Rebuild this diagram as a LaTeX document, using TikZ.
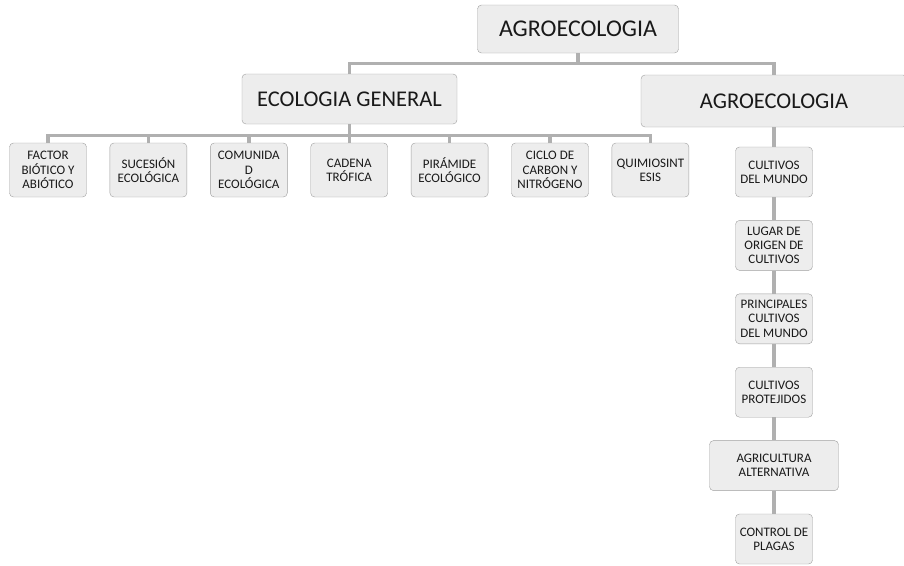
\documentclass[tikz,border=0pt]{standalone}
\usepackage{fontspec}
\setmainfont{Carlito}
\usepackage{xcolor}
\usepackage{tikz}
\usetikzlibrary{positioning}

\begin{document}
\begin{tikzpicture}[
    x=1pt, y=1pt,
    node distance=23pt,
    topbox/.style={rectangle, rounded corners=4pt, minimum width=201pt, minimum height=48pt, text centered, draw=gray!75, fill=gray!14, text=black!90, font=\fontsize{24}{28}\selectfont},
    midbox/.style={topbox, font=\fontsize{22.5}{27}\selectfont},
    leafbox/.style={rectangle, rounded corners=4pt, minimum width=77pt, minimum height=54pt, align=center, inner sep=1pt, draw=gray!75, fill=gray!14, text=black!90, font=\fontsize{13}{14.2}\selectfont},
    colbox/.style={leafbox, minimum height=50pt},
    link/.style={draw=gray!62, line width=3.4pt}
]
\useasboundingbox (0,0) rectangle (904,-565);

\node (root) [topbox] at (578,-29) {AGROECOLOGIA};
\node (ecogen) [midbox, minimum width=215pt, minimum height=50pt] at (349.5,-99) {ECOLOGIA GENERAL};
\node (agro) [midbox, minimum width=266pt, minimum height=52pt] at (774,-101) {AGROECOLOGIA};

% ecologia general
\node (factor) [leafbox] at (48,-170) {FACTOR\\BIÓTICO Y\\ABIÓTICO};
\node (sucesion) [leafbox, right=of factor] {SUCESIÓN\\ECOLÓGICA};
\node (comunidad) [leafbox, right=of sucesion] {COMUNIDA\\D\\ECOLÓGICA};
\node (cadena) [leafbox, right=of comunidad] {CADENA\\TRÓFICA};
\node (piramide) [leafbox, right=of cadena] {PIRÁMIDE\\ECOLÓGICO};
\node (ciclo) [leafbox, right=of piramide] {CICLO DE\\CARBON Y\\NITRÓGENO};
\node (quimio) [leafbox, right=of ciclo] {QUIMIOSINT\\ESIS};

% agroecologia
\node (cultivos) [colbox] at (774,-172) {CULTIVOS\\DEL MUNDO};
\node (origen) [colbox, below=of cultivos] {LUGAR DE\\ORIGEN DE\\CULTIVOS};
\node (principales) [colbox, below=of origen] {PRINCIPALES\\CULTIVOS\\DEL MUNDO};
\node (protejidos) [colbox, below=of principales] {CULTIVOS\\PROTEJIDOS};
\node (alternativa) [colbox, below=of protejidos, minimum width=129pt] {AGRICULTURA\\ALTERNATIVA};
\node (plagas) [colbox, below=of alternativa] {CONTROL DE\\PLAGAS};

\draw [link] (root.south) -- ++(0,-10) -| (ecogen.north);
\draw [link] (root.south) -- ++(0,-10) -| (agro.north);

\draw [link] (ecogen.south) -- ++(0,-11) -| (factor.north);
\draw [link] (ecogen.south) -- ++(0,-11) -| (sucesion.north);
\draw [link] (ecogen.south) -- ++(0,-11) -| (comunidad.north);
\draw [link] (ecogen.south) -- ++(0,-11) -| (cadena.north);
\draw [link] (ecogen.south) -- ++(0,-11) -| (piramide.north);
\draw [link] (ecogen.south) -- ++(0,-11) -| (ciclo.north);
\draw [link] (ecogen.south) -- ++(0,-11) -| (quimio.north);

\draw [link] (agro) -- (cultivos);
\draw [link] (cultivos) -- (origen);
\draw [link] (origen) -- (principales);
\draw [link] (principales) -- (protejidos);
\draw [link] (protejidos) -- (alternativa);
\draw [link] (alternativa) -- (plagas);

\end{tikzpicture}
\end{document}
